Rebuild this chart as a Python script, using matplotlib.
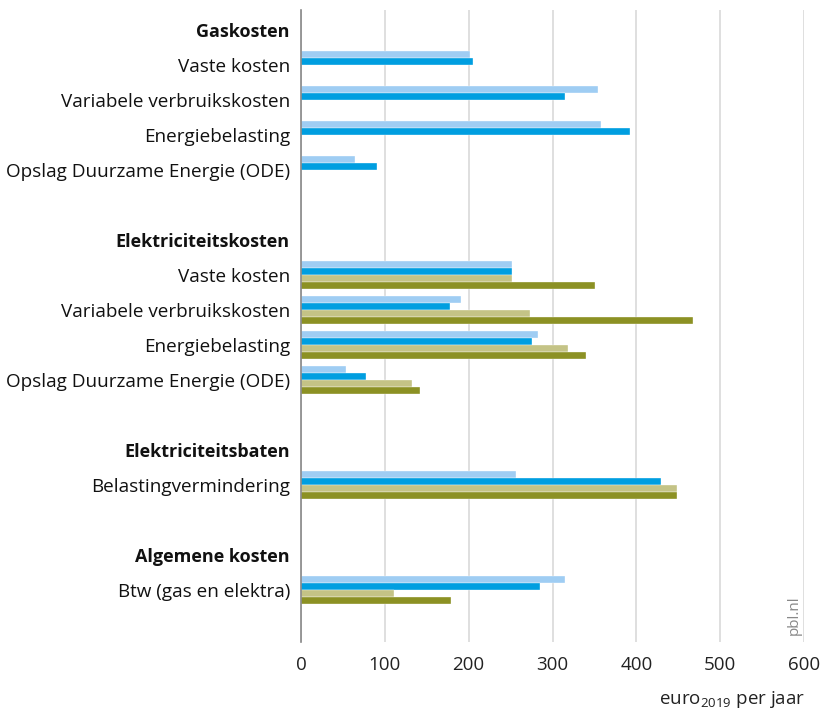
import numpy as np
import matplotlib
matplotlib.use("Agg")
import matplotlib.pyplot as plt

plt.rcParams['font.family'] = ['Open Sans', 'DejaVu Sans']
plt.rcParams['mathtext.default'] = 'regular'

# rows (top to bottom); headers are bold
row_labels = [
    "Gaskosten", "Vaste kosten", "Variabele verbruikskosten", "Energiebelasting",
    "Opslag Duurzame Energie (ODE)", "",
    "Elektriciteitskosten", "Vaste kosten", "Variabele verbruikskosten", "Energiebelasting",
    "Opslag Duurzame Energie (ODE)", "",
    "Elektriciteitsbaten", "Belastingvermindering", "",
    "Algemene kosten", "Btw (gas en elektra)",
]
header_rows = [0, 6, 12, 15]

nan = np.nan
# four series (values in euro2019 per jaar), NaN where no bar
series1 = [nan, 202, 354, 358, 64, nan, nan, 252, 191, 283, 54, nan, nan, 257, nan, nan, 315]
series2 = [nan, 205, 315, 393, 91, nan, nan, 252, 178, 275, 77, nan, nan, 430, nan, nan, 285]
series3 = [nan, nan, nan, nan, nan, nan, nan, 252, 273, 319, 133, nan, nan, 449, nan, nan, 111]
series4 = [nan, nan, nan, nan, nan, nan, nan, 351, 468, 340, 142, nan, nan, 449, nan, nan, 179]

colors = ["#9fcdf3", "#009ee0", "#c4c386", "#8c9124"]
xticks = [0, 100, 200, 300, 400, 500, 600]

fig = plt.figure(figsize=(8.29, 7.15), dpi=100)
ax = fig.add_axes([301/829, 1-642/715, (804-301)/829, (642-10)/715])

y = np.arange(len(row_labels))
h = 0.2
for i, (vals, c) in enumerate(zip([series1, series2, series3, series4], colors)):
    ax.barh(y - 0.3 + i*h, vals, height=h, color=c, edgecolor="#ffffff", linewidth=0.25, zorder=3)

ax.set_xlim(0, 600)
ax.set_ylim(17.49, -0.57)
ax.set_xticks(xticks)
ax.set_xticklabels([str(t) for t in xticks], fontsize=13.5, color="#222222")
ax.set_yticks(y)
ax.set_yticklabels(row_labels, fontsize=13.6, color="#111111")
for i, lab in enumerate(ax.get_yticklabels()):
    if i in header_rows:
        lab.set_fontweight("bold")
        lab.set_fontsize(13)
ax.tick_params(axis="y", length=0, pad=8)
ax.tick_params(axis="x", length=0, pad=10)
ax.grid(axis="x", color="#d9d9d9", linewidth=1.2, zorder=0)
for s in ["top", "right", "bottom"]:
    ax.spines[s].set_visible(False)
ax.spines["left"].set_color("#888888")
ax.spines["left"].set_linewidth(1.2)
ax.spines["left"].set_zorder(4)

fig.text(805/829, 1-700/715, r"euro$_{2019}$ per jaar", ha="right", va="center", fontsize=13.5, color="#222222")
fig.text(794/829, 1-615/715, "pbl.nl", rotation=90, ha="center", va="center", fontsize=11, color="#888888")

fig.savefig("out.png", dpi=100)
